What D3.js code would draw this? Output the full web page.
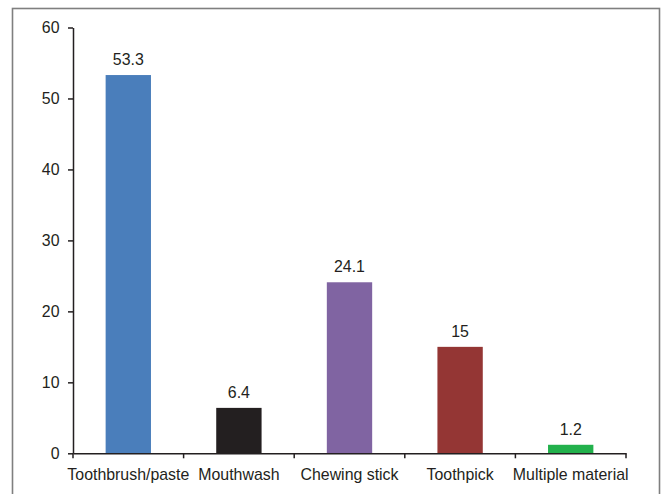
<!DOCTYPE html>
<html>
<head>
<meta charset="utf-8">
<script src="https://cdn.jsdelivr.net/npm/d3@7"></script>
<style>
  html, body { margin: 0; padding: 0; background: #fff; }
  svg { display: block; }
  text { font-family: "Liberation Sans", Arial, sans-serif; fill: #231f20; }
</style>
</head>
<body>
<svg id="chart" width="661" height="494"></svg>
<script>
const categories = ["Toothbrush/paste", "Mouthwash", "Chewing stick", "Toothpick", "Multiple material"];
const values = [53.3, 6.4, 24.1, 15, 1.2];
const labels = ["53.3", "6.4", "24.1", "15", "1.2"];
const colors = ["#4a7ebb", "#231f20", "#8064a2", "#943634", "#22b14c"];
const yTicks = [0, 10, 20, 30, 40, 50, 60];

const svg = d3.select("#chart");
const fontSize = "15.9px";

// outer frame
svg.append("rect")
  .attr("x", 12.5).attr("y", 8.5)
  .attr("width", 647).attr("height", 500)
  .attr("fill", "none")
  .attr("stroke", "#7f7f7f")
  .attr("stroke-width", 1.6);

const x = d3.scaleBand()
  .domain(categories)
  .range([73, 626])
  .paddingInner(0.59)
  .paddingOuter(0.295);

const y = d3.scaleLinear()
  .domain([0, 60])
  .range([453.3, 27.5]);

// bars
svg.append("g").selectAll("rect")
  .data(values)
  .join("rect")
  .attr("x", (d, i) => x(categories[i]))
  .attr("y", d => y(d))
  .attr("width", x.bandwidth())
  .attr("height", d => y(0) - y(d))
  .attr("fill", (d, i) => colors[i]);

// value labels
svg.append("g").selectAll("text")
  .data(values)
  .join("text")
  .attr("x", (d, i) => x(categories[i]) + x.bandwidth() / 2)
  .attr("y", d => y(d) - 10)
  .attr("text-anchor", "middle")
  .style("font-size", fontSize)
  .text((d, i) => labels[i]);

// y axis
const yAxis = svg.append("g")
  .attr("transform", `translate(${x.range()[0]},0)`)
  .call(d3.axisLeft(y).tickValues(yTicks).tickSize(5).tickSizeOuter(0).tickPadding(8.5).tickFormat(d3.format("d")));
yAxis.selectAll("text").style("font-size", fontSize).attr("fill", "#231f20");
yAxis.selectAll("line, path").attr("stroke", "#231f20").attr("stroke-width", 1.5);

// x axis (labels)
const xAxis = svg.append("g")
  .attr("transform", `translate(0,${y(0)})`)
  .call(d3.axisBottom(x).tickSize(0).tickSizeOuter(0).tickPadding(15));
xAxis.selectAll("text").style("font-size", fontSize).attr("fill", "#231f20").attr("dy", "0.71em");
xAxis.select(".domain").attr("stroke", "#231f20").attr("stroke-width", 1.5);

// x boundary ticks (between categories)
const boundaries = d3.range(categories.length + 1).map(i => x.range()[0] + i * x.step());
svg.append("g").selectAll("line")
  .data(boundaries)
  .join("line")
  .attr("x1", d => d).attr("x2", d => d)
  .attr("y1", y(0)).attr("y2", y(0) + 5)
  .attr("stroke", "#231f20")
  .attr("stroke-width", 1.5);
</script>
</body>
</html>
